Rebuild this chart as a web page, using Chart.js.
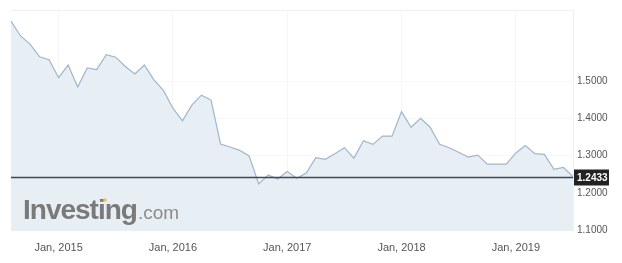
<!DOCTYPE html>
<html>
<head>
<meta charset="utf-8">
<script src="https://cdn.jsdelivr.net/npm/chart.js@4"></script>
<style>
  html, body { margin: 0; padding: 0; background: #fff; }
  #wrap { width: 622px; height: 263px; position: relative; }
</style>
</head>
<body>
<div id="wrap"><canvas id="chart"></canvas></div>
<script>
// monthly closes, Aug 2014 .. Jul 2019
const months = [
  'Aug 2014','Sep 2014','Oct 2014','Nov 2014','Dec 2014',
  'Jan 2015','Feb 2015','Mar 2015','Apr 2015','May 2015','Jun 2015','Jul 2015','Aug 2015','Sep 2015','Oct 2015','Nov 2015','Dec 2015',
  'Jan 2016','Feb 2016','Mar 2016','Apr 2016','May 2016','Jun 2016','Jul 2016','Aug 2016','Sep 2016','Oct 2016','Nov 2016','Dec 2016',
  'Jan 2017','Feb 2017','Mar 2017','Apr 2017','May 2017','Jun 2017','Jul 2017','Aug 2017','Sep 2017','Oct 2017','Nov 2017','Dec 2017',
  'Jan 2018','Feb 2018','Mar 2018','Apr 2018','May 2018','Jun 2018','Jul 2018','Aug 2018','Sep 2018','Oct 2018','Nov 2018','Dec 2018',
  'Jan 2019','Feb 2019','Mar 2019','Apr 2019','May 2019','Jun 2019','Jul 2019'
];
const closes = [
  1.661, 1.621, 1.599, 1.565, 1.557,
  1.509, 1.543, 1.484, 1.535, 1.531, 1.571, 1.564, 1.539, 1.519, 1.543, 1.503, 1.475,
  1.427, 1.393, 1.436, 1.462, 1.449, 1.331, 1.323, 1.314, 1.299, 1.224, 1.248, 1.237,
  1.257, 1.239, 1.253, 1.294, 1.290, 1.305, 1.321, 1.293, 1.340, 1.330, 1.352, 1.352,
  1.418, 1.376, 1.400, 1.376, 1.330, 1.321, 1.309, 1.296, 1.301, 1.277, 1.277, 1.277,
  1.307, 1.327, 1.305, 1.303, 1.263, 1.268, 1.2433
];
const yTicks = [1.1, 1.2, 1.3, 1.4, 1.5];
const lastPrice = 1.2433;

// ===================== overlay: price line, price tag, watermark =====================
const overlay = {
  id: 'overlay',
  afterDatasetsDraw(chart) {
    const { ctx, chartArea: a, scales } = chart;
    ctx.save();
    // top border of the plot
    ctx.strokeStyle = '#f0f0f0';
    ctx.lineWidth = 1;
    ctx.beginPath();
    ctx.moveTo(a.left, a.top + 0.5);
    ctx.lineTo(a.right, a.top + 0.5);
    ctx.stroke();

    // watermark
    ctx.textBaseline = 'alphabetic';
    ctx.textAlign = 'left';
    ctx.fillStyle = '#7a7a7a';
    ctx.letterSpacing = '-1px';
    ctx.font = 'bold 28px "Liberation Sans", Arial, sans-serif';
    ctx.fillText('Investing', 23, 219);
    const w = ctx.measureText('Investing').width;
    ctx.letterSpacing = '0px';
    ctx.fillStyle = '#8c8c8c';
    ctx.font = '19px "Liberation Sans", Arial, sans-serif';
    ctx.fillText('.com', 23 + w + 1, 219);
    ctx.fillStyle = '#f0c24a';
    ctx.beginPath();
    ctx.arc(105, 200, 1.8, 0, Math.PI * 2);
    ctx.fill();

    // last price line
    const y = Math.round(scales.y.getPixelForValue(lastPrice)) + 0.5;
    ctx.strokeStyle = '#3f4a50';
    ctx.lineWidth = 1.5;
    ctx.beginPath();
    ctx.moveTo(a.left, y);
    ctx.lineTo(a.right, y);
    ctx.stroke();

    // price tag
    ctx.fillStyle = '#222222';
    ctx.fillRect(a.right + 1, y - 8, 35, 16);
    ctx.fillStyle = '#ffffff';
    ctx.font = 'bold 10px "Liberation Sans", Arial, sans-serif';
    ctx.textBaseline = 'middle';
    ctx.fillText(lastPrice.toFixed(4), a.right + 4, y + 1);
    ctx.restore();
  }
};

new Chart(document.getElementById('chart'), {
  type: 'line',
  data: {
    labels: months,
    datasets: [{
      data: closes,
      borderColor: '#9fb7cc',
      borderWidth: 1.2,
      backgroundColor: '#e7eef4',
      fill: 'start',
      pointRadius: 0,
      tension: 0
    }]
  },
  options: {
    responsive: true,
    maintainAspectRatio: false,
    animation: false,
    layout: { padding: { left: 11, top: 7, right: 0, bottom: 0 } },
    plugins: { legend: { display: false }, tooltip: { enabled: false } },
    scales: {
      x: {
        offset: false,
        grid: {
          drawTicks: false,
          color: (c) => (c.tick && months[c.tick.value] && months[c.tick.value].startsWith('Jan')) ? '#f5f5f5' : 'rgba(0,0,0,0)'
        },
        border: { display: false },
        ticks: {
          autoSkip: false,
          maxRotation: 0,
          padding: 10,
          color: '#555',
          font: { family: '"Liberation Sans", Arial, sans-serif', size: 11 },
          callback: (v) => months[v].startsWith('Jan') ? 'Jan, ' + months[v].slice(4) : ''
        },
        afterFit: (s) => { s.height = 32; }
      },
      y: {
        position: 'right',
        min: 1.0974,
        max: 1.6907,
        afterBuildTicks: (s) => { s.ticks = yTicks.map(v => ({ value: v })); },
        grid: { drawTicks: false, color: '#f7f7f7' },
        border: { display: true, color: '#f0f0f0' },
        ticks: {
          padding: 4,
          color: '#555',
          font: { family: '"Liberation Sans", Arial, sans-serif', size: 10 },
          callback: (v) => Number(v).toFixed(4)
        },
        afterFit: (s) => { s.width = 49; }
      }
    }
  },
  plugins: [overlay]
});
</script>
</body>
</html>
